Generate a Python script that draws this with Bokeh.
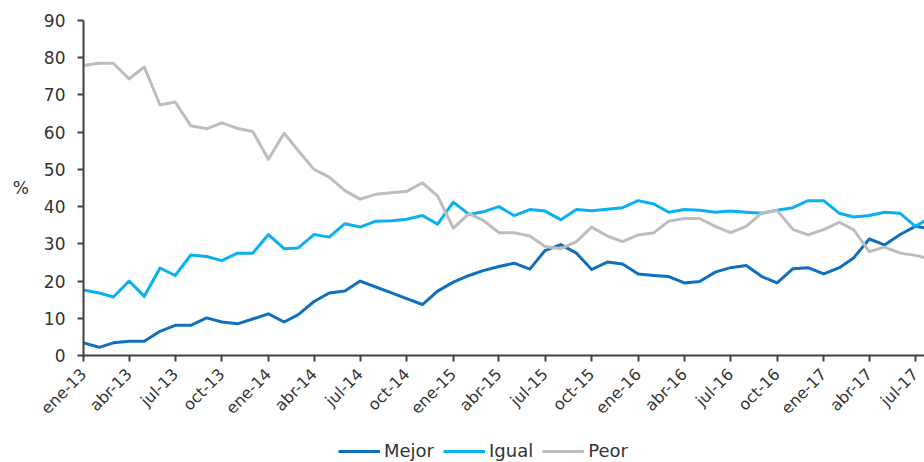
import pandas as pd
from bokeh.plotting import figure
from bokeh.layouts import column
from bokeh.models import FixedTicker, Legend, LegendItem, Range1d
from bokeh.embed import file_html
from bokeh.resources import INLINE
import math

# monthly observations, ene-13 .. ago-17
months = pd.date_range("2013-01-01", periods=56, freq="MS")

mejor = [3.4, 2.2, 3.4, 3.8, 3.8, 6.5, 8.1, 8.1, 10.1, 9.0, 8.5, 9.8,
         11.2, 9.0, 11.0, 14.5, 16.8, 17.3, 20.0, 18.4, 16.8, 15.3, 13.7, 17.3,
         19.7, 21.5, 22.8, 23.9, 24.8, 23.2, 28.2, 29.8, 27.5, 23.1, 25.1, 24.6,
         21.9, 21.5, 21.2, 19.5, 19.9, 22.4, 23.6, 24.2, 21.2, 19.5, 23.3, 23.6,
         21.9, 23.6, 26.2, 31.3, 29.7, 32.5, 34.7, 34.0]

igual = [17.6, 16.8, 15.7, 20.0, 15.9, 23.5, 21.5, 27.0, 26.6, 25.5, 27.5, 27.5,
         32.5, 28.7, 28.9, 32.5, 31.8, 35.4, 34.5, 36.1, 36.2, 36.6, 37.6, 35.3,
         41.2, 37.9, 38.6, 40.0, 37.6, 39.2, 38.8, 36.5, 39.2, 38.9, 39.3, 39.7,
         41.6, 40.7, 38.5, 39.2, 39.0, 38.5, 38.8, 38.5, 38.2, 39.0, 39.7, 41.6,
         41.6, 38.2, 37.2, 37.6, 38.5, 38.2, 34.7, 37.2]

peor = [77.9, 78.5, 78.5, 74.3, 77.5, 67.3, 68.1, 61.7, 60.9, 62.5, 61.0, 60.2,
        52.7, 59.7, 55.0, 50.0, 47.9, 44.3, 42.0, 43.3, 43.7, 44.1, 46.4, 42.8,
        34.2, 38.1, 36.3, 33.0, 33.0, 32.1, 29.3, 28.7, 30.6, 34.5, 32.1, 30.6,
        32.4, 33.0, 36.1, 36.8, 36.8, 34.7, 33.0, 34.7, 38.3, 39.0, 33.9, 32.4,
        33.8, 35.8, 33.8, 27.9, 29.1, 27.5, 26.9, 25.8]

tick_dates = pd.date_range("2013-01-01", "2017-07-01", freq="3MS")
tick_labels = ["ene-13", "abr-13", "jul-13", "oct-13",
               "ene-14", "abr-14", "jul-14", "oct-14",
               "ene-15", "abr-15", "jul-15", "oct-15",
               "ene-16", "abr-16", "jul-16", "oct-16",
               "ene-17", "abr-17", "jul-17"]
y_ticks = [0, 10, 20, 30, 40, 50, 60, 70, 80, 90]

series_names = ["Mejor", "Igual", "Peor"]
colors = ["#1070BE", "#0AB0F0", "#BDBDBD"]

x = [(m - months[0]).days for m in months]
xt = [(t - months[0]).days for t in tick_dates]

FONT = "DejaVu Sans"
TXT = "#333333"
AX = "#404040"

p = figure(width=924, height=430, output_backend="svg", toolbar_location=None,
           x_range=Range1d(0, 1660), y_range=Range1d(0, 90),
           min_border_left=83, min_border_right=0, min_border_top=20,
           min_border_bottom=75)
p.outline_line_color = None
p.xgrid.visible = False
p.ygrid.visible = False
p.background_fill_color = "white"

all_series = [mejor, igual, peor]
for vals, c in zip(all_series, colors):
    p.line(x, vals, line_color=c, line_width=3, line_join="round")

# y axis
ya = p.yaxis[0]
ya.ticker = FixedTicker(ticks=y_ticks)
ya.axis_label = "%"
ya.axis_label_orientation = "horizontal"
ya.axis_label_text_font_style = "normal"
ya.axis_label_text_font = FONT
ya.axis_label_text_font_size = "17px"
ya.axis_label_text_color = TXT
ya.axis_label_standoff = 12
ya.major_label_text_font = FONT
ya.major_label_text_font_size = "17px"
ya.major_label_text_color = TXT
ya.major_label_standoff = 12
ya.axis_line_color = AX
ya.axis_line_width = 2
ya.major_tick_line_color = AX
ya.major_tick_line_width = 2
ya.major_tick_out = 6
ya.major_tick_in = 0
ya.minor_tick_line_color = None

# x axis
xa = p.xaxis[0]
xa.ticker = FixedTicker(ticks=xt)
xa.major_label_overrides = {t: l for t, l in zip(xt, tick_labels)}
xa.major_label_orientation = math.pi / 4
xa.major_label_text_font = FONT
xa.major_label_text_font_size = "16px"
xa.major_label_text_color = TXT
xa.major_label_standoff = 10
xa.axis_line_color = AX
xa.axis_line_width = 2
xa.major_tick_line_color = AX
xa.major_tick_line_width = 2
xa.major_tick_out = 6
xa.major_tick_in = 0
xa.minor_tick_line_color = None

# legend strip below the chart (its lines lie outside its own ranges, only the key shows)
lg = figure(width=924, height=32, output_backend="svg", toolbar_location=None,
            x_range=Range1d(0, 1660), y_range=Range1d(200, 201),
            x_axis_location=None, y_axis_location=None, min_border=0)
lg.outline_line_color = None
lg.xgrid.visible = False
lg.ygrid.visible = False
key_renderers = [lg.line(x, vals, line_color=c, line_width=3) for vals, c in zip(all_series, colors)]
legend = Legend(items=[LegendItem(label=n, renderers=[r]) for n, r in zip(series_names, key_renderers)],
                orientation="horizontal", location=(255, 1),
                padding=0, margin=0, spacing=9, glyph_width=42, glyph_height=20,
                label_standoff=4, label_text_font=FONT, label_text_font_size="18px",
                label_text_color=TXT, border_line_color=None, background_fill_alpha=0)
lg.add_layout(legend, "center")

layout = column(p, lg, spacing=0)
open("out.html", "w").write(file_html(layout, INLINE))
